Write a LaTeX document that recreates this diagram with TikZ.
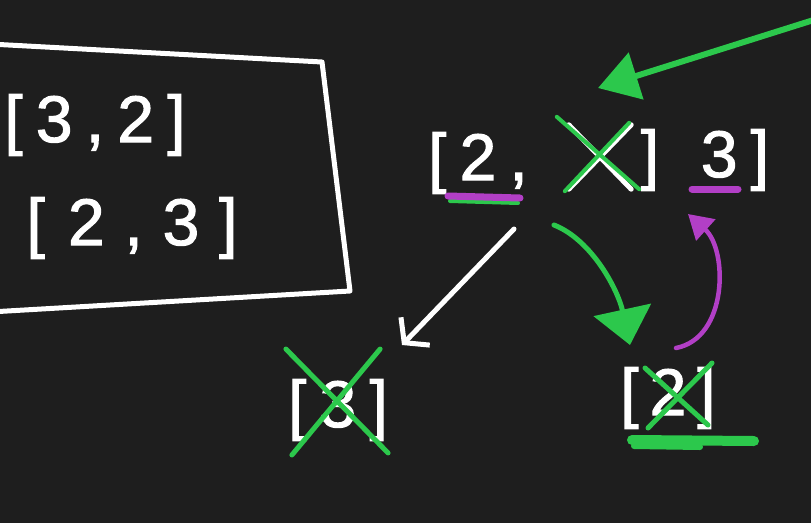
\documentclass[tikz,border=0pt]{standalone}
\usepackage{fontspec}
\newfontfamily\handfont[LetterSpace=20,FakeBold=1.6]{Liberation Sans}
\usetikzlibrary{arrows.meta,positioning,calc}

\definecolor{board}{HTML}{1E1E1E}
\definecolor{marker}{HTML}{2CC84C}
\definecolor{ink}{HTML}{B23FC6}

\tikzset{
  arr/.style={text=white, font=\handfont\fontsize{66}{70}\selectfont, inner sep=0pt},
  chalk/.style={white, line width=5pt, line cap=round, line join=round},
  gline/.style={marker, line width=5pt, line cap=round, line join=round},
  pline/.style={ink, line width=4.5pt, line cap=round, line join=round}
}

\begin{document}
\begin{tikzpicture}[x=1pt,y=-1pt]
\fill[board] (0,0) rectangle (811,523);
\useasboundingbox (0,0) rectangle (811,523);

% Result box
\draw[chalk] (-10,44) -- (322,62) -- (350,291) -- (-10,312);
\node[arr] (resA) at (95,125) {[3,2]};
\node[arr] (resB) at (132,228) {[\hspace{0.35em}2\hspace{0.3em},\hspace{0.3em}3\hspace{0.3em}]};

% Current array
\node[arr] (head) at (478,163) {[2,};
\node[inner sep=0pt, minimum width=62pt, minimum height=64pt] (gone) at (600,157) {};
\node[arr] (close) at (650,160) {]};
\node[arr] (tail) at (735,160) {3]};
\draw[chalk] (gone.north west) -- (gone.south east) (gone.north east) -- (gone.south west);
\draw[gline, line width=4pt] ($(gone.north west)+(-12,-8)$) -- ($(gone.south east)+(8,0)$);
\draw[gline, line width=4pt] ($(gone.north east)+(-2,-2)$) -- ($(gone.south west)+(-4,2)$);

% Underlines
\draw[gline, line width=4pt] (450,201) -- (518,203);
\draw[pline, line width=7pt] (448,196) -- (520,198);
\draw[pline, line width=7pt] (692,189) -- (738,189);

% Leaves
\node[arr] (leafL) at (338,410) {[3]};
\node[arr] (leafR) at (668,398) {[\,2\,]};
\draw[gline] ($(leafL.north west)+(-2,-30)$) -- ($(leafL.south east)+(0,12)$);
\draw[gline] ($(leafL.north east)+(-8,-30)$) -- ($(leafL.south west)+(4,14)$);
\draw[gline] (645,368) -- (708,425) (712,363) -- (648,428);
\draw[gline, line width=10pt] (632,440) -- (754,441);
\draw[gline, line width=6pt] (634,446) -- (700,447);

% Arrows
\coordinate (pen) at (820,18);
\coordinate (aim) at (598,88);
\draw[gline, line width=6pt, -{Triangle[length=40pt,width=48pt]}] (pen) -- (aim);

\coordinate (splitL) at (514,229);
\coordinate (splitR) at (554,225);
\coordinate (tipL) at (402,345);
\coordinate (tipR) at (630,345);
\draw[chalk, -{Straight Barb[length=16pt,width=40pt]}] (splitL) -- (tipL);
\draw[gline, -{Triangle[length=36pt,width=58pt]}] (splitR) .. controls (592,240) and (618,290) .. (tipR);

\coordinate (back) at (676,348);
\coordinate (up) at (688,214);
\draw[pline, -{Triangle[length=24pt,width=28pt]}] (back) .. controls (728,338) and (728,250) .. (up);
\end{tikzpicture}
\end{document}
